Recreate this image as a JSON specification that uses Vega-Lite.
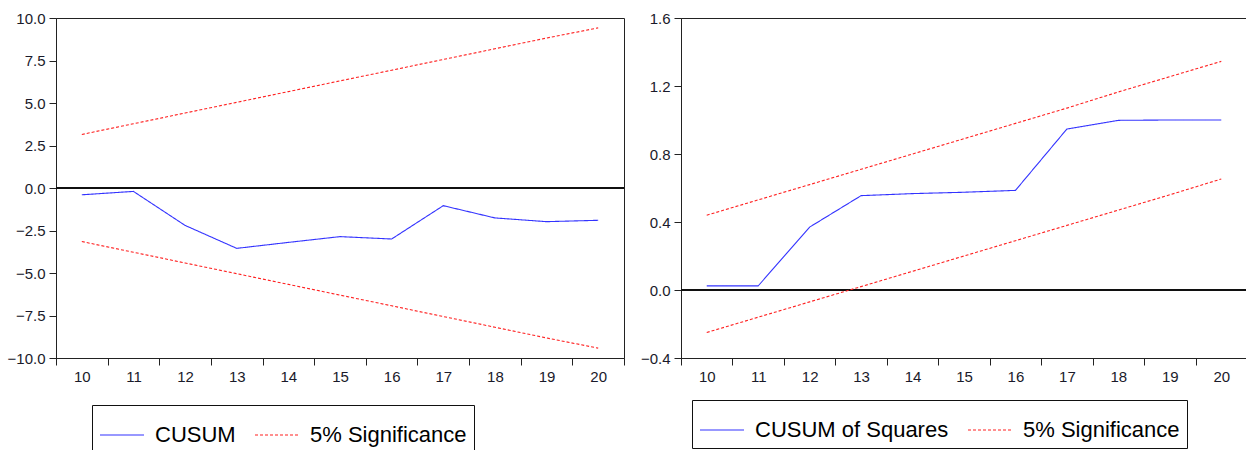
{
  "$schema": "https://vega.github.io/schema/vega-lite/v6.json",
  "padding": {"left": 6, "top": 10, "right": 0, "bottom": 0},
  "background": "white",
  "spacing": 14,
  "config": {
    "font": "Liberation Sans",
    "view": {"stroke": "#222", "strokeWidth": 1},
    "axis": {
      "domainColor": "#222", "tickColor": "#222", "labelColor": "#1a1a2a",
      "labelFontSize": 15, "labelFont": "Liberation Sans", "grid": false,
      "title": null, "tickSize": 7, "labelPadding": 4
    },
    "legend": {
      "orient": "none", "direction": "horizontal", "title": null,
      "strokeColor": "#111", "fillColor": "white", "padding": 7,
      "labelFontSize": 22, "labelFont": "Liberation Sans", "labelColor": "#000", "labelLimit": 400,
      "symbolType": "stroke", "symbolSize": 1936, "symbolStrokeWidth": 1.2,
      "labelOffset": 10, "columnPadding": 16
    }
  },
  "datasets": {
    "cusum": [
      {"t": 10, "series": "CUSUM", "part": "c", "value": -0.4},
      {"t": 11, "series": "CUSUM", "part": "c", "value": -0.2},
      {"t": 12, "series": "CUSUM", "part": "c", "value": -2.2},
      {"t": 13, "series": "CUSUM", "part": "c", "value": -3.55},
      {"t": 14, "series": "CUSUM", "part": "c", "value": -3.2},
      {"t": 15, "series": "CUSUM", "part": "c", "value": -2.86},
      {"t": 16, "series": "CUSUM", "part": "c", "value": -3.0},
      {"t": 17, "series": "CUSUM", "part": "c", "value": -1.04},
      {"t": 18, "series": "CUSUM", "part": "c", "value": -1.76},
      {"t": 19, "series": "CUSUM", "part": "c", "value": -1.98},
      {"t": 20, "series": "CUSUM", "part": "c", "value": -1.9},
      {"t": 10, "series": "5% Significance", "part": "u", "value": 3.15},
      {"t": 11, "series": "5% Significance", "part": "u", "value": 3.78},
      {"t": 12, "series": "5% Significance", "part": "u", "value": 4.41},
      {"t": 13, "series": "5% Significance", "part": "u", "value": 5.04},
      {"t": 14, "series": "5% Significance", "part": "u", "value": 5.67},
      {"t": 15, "series": "5% Significance", "part": "u", "value": 6.3},
      {"t": 16, "series": "5% Significance", "part": "u", "value": 6.93},
      {"t": 17, "series": "5% Significance", "part": "u", "value": 7.56},
      {"t": 18, "series": "5% Significance", "part": "u", "value": 8.19},
      {"t": 19, "series": "5% Significance", "part": "u", "value": 8.82},
      {"t": 20, "series": "5% Significance", "part": "u", "value": 9.42},
      {"t": 10, "series": "5% Significance", "part": "l", "value": -3.15},
      {"t": 11, "series": "5% Significance", "part": "l", "value": -3.78},
      {"t": 12, "series": "5% Significance", "part": "l", "value": -4.41},
      {"t": 13, "series": "5% Significance", "part": "l", "value": -5.04},
      {"t": 14, "series": "5% Significance", "part": "l", "value": -5.67},
      {"t": 15, "series": "5% Significance", "part": "l", "value": -6.3},
      {"t": 16, "series": "5% Significance", "part": "l", "value": -6.93},
      {"t": 17, "series": "5% Significance", "part": "l", "value": -7.56},
      {"t": 18, "series": "5% Significance", "part": "l", "value": -8.19},
      {"t": 19, "series": "5% Significance", "part": "l", "value": -8.82},
      {"t": 20, "series": "5% Significance", "part": "l", "value": -9.42}
    ],
    "cusumsq": [
      {"t": 10, "series": "CUSUM of Squares", "part": "c", "value": 0.024},
      {"t": 11, "series": "CUSUM of Squares", "part": "c", "value": 0.024},
      {"t": 12, "series": "CUSUM of Squares", "part": "c", "value": 0.37},
      {"t": 13, "series": "CUSUM of Squares", "part": "c", "value": 0.555},
      {"t": 14, "series": "CUSUM of Squares", "part": "c", "value": 0.567},
      {"t": 15, "series": "CUSUM of Squares", "part": "c", "value": 0.575},
      {"t": 16, "series": "CUSUM of Squares", "part": "c", "value": 0.586},
      {"t": 17, "series": "CUSUM of Squares", "part": "c", "value": 0.947},
      {"t": 18, "series": "CUSUM of Squares", "part": "c", "value": 0.998},
      {"t": 19, "series": "CUSUM of Squares", "part": "c", "value": 1.0},
      {"t": 20, "series": "CUSUM of Squares", "part": "c", "value": 1.0},
      {"t": 10, "series": "5% Significance", "part": "u", "value": 0.44},
      {"t": 11, "series": "5% Significance", "part": "u", "value": 0.53},
      {"t": 12, "series": "5% Significance", "part": "u", "value": 0.62},
      {"t": 13, "series": "5% Significance", "part": "u", "value": 0.71},
      {"t": 14, "series": "5% Significance", "part": "u", "value": 0.8},
      {"t": 15, "series": "5% Significance", "part": "u", "value": 0.89},
      {"t": 16, "series": "5% Significance", "part": "u", "value": 0.98},
      {"t": 17, "series": "5% Significance", "part": "u", "value": 1.07},
      {"t": 18, "series": "5% Significance", "part": "u", "value": 1.165},
      {"t": 19, "series": "5% Significance", "part": "u", "value": 1.255},
      {"t": 20, "series": "5% Significance", "part": "u", "value": 1.345},
      {"t": 10, "series": "5% Significance", "part": "l", "value": -0.25},
      {"t": 11, "series": "5% Significance", "part": "l", "value": -0.16},
      {"t": 12, "series": "5% Significance", "part": "l", "value": -0.07},
      {"t": 13, "series": "5% Significance", "part": "l", "value": 0.02},
      {"t": 14, "series": "5% Significance", "part": "l", "value": 0.11},
      {"t": 15, "series": "5% Significance", "part": "l", "value": 0.2},
      {"t": 16, "series": "5% Significance", "part": "l", "value": 0.29},
      {"t": 17, "series": "5% Significance", "part": "l", "value": 0.38},
      {"t": 18, "series": "5% Significance", "part": "l", "value": 0.47},
      {"t": 19, "series": "5% Significance", "part": "l", "value": 0.56},
      {"t": 20, "series": "5% Significance", "part": "l", "value": 0.653}
    ]
  },
  "resolve": {"scale": {"color": "independent", "strokeDash": "independent"}, "legend": {"color": "independent", "strokeDash": "independent"}},
  "hconcat": [
    {
      "width": 568,
      "height": 340,
      "data": {"name": "cusum"},
      "layer": [
        {
          "mark": {"type": "rule", "color": "#111", "strokeWidth": 1},
          "encoding": {"y": {"datum": 0, "type": "quantitative"}}
        },
        {
          "mark": {"type": "line", "strokeWidth": 1.1},
          "encoding": {
            "x": {
              "field": "t", "type": "quantitative",
              "scale": {"domain": [9.5, 20.5], "nice": false, "zero": false},
              "axis": {
                "values": [9.5, 10, 10.5, 11, 11.5, 12, 12.5, 13, 13.5, 14, 14.5, 15, 15.5, 16, 16.5, 17, 17.5, 18, 18.5, 19, 19.5, 20, 20.5],
                "labelExpr": "datum.value % 1 == 0 ? format(datum.value, 'd') : ''",
                "tickOpacity": {"condition": {"test": "datum.value % 1 == 0", "value": 0}, "value": 1},
                "labelFlush": false, "labelOverlap": false
              }
            },
            "y": {
              "field": "value", "type": "quantitative",
              "scale": {"domain": [-10, 10], "nice": false},
              "axis": {"values": [-10, -7.5, -5, -2.5, 0, 2.5, 5, 7.5, 10], "format": ".1f", "labelFlush": false}
            },
            "detail": {"field": "part"},
            "color": {
              "field": "series", "type": "nominal",
              "scale": {"domain": ["CUSUM", "5% Significance"], "range": ["#3333ff", "#ff2020"]},
              "legend": {"legendX": 36, "legendY": 387}
            },
            "strokeDash": {
              "field": "series", "type": "nominal",
              "scale": {"domain": ["CUSUM", "5% Significance"], "range": [[1, 0], [3, 2]]},
              "legend": {"legendX": 36, "legendY": 387}
            }
          }
        }
      ]
    },
    {
      "width": 566,
      "height": 340,
      "data": {"name": "cusumsq"},
      "layer": [
        {
          "mark": {"type": "rule", "color": "#111", "strokeWidth": 1},
          "encoding": {"y": {"datum": 0, "type": "quantitative"}}
        },
        {
          "mark": {"type": "line", "strokeWidth": 1.1},
          "encoding": {
            "x": {
              "field": "t", "type": "quantitative",
              "scale": {"domain": [9.5, 20.5], "nice": false, "zero": false},
              "axis": {
                "values": [9.5, 10, 10.5, 11, 11.5, 12, 12.5, 13, 13.5, 14, 14.5, 15, 15.5, 16, 16.5, 17, 17.5, 18, 18.5, 19, 19.5, 20, 20.5],
                "labelExpr": "datum.value % 1 == 0 ? format(datum.value, 'd') : ''",
                "tickOpacity": {"condition": {"test": "datum.value % 1 == 0", "value": 0}, "value": 1},
                "labelFlush": false, "labelOverlap": false
              }
            },
            "y": {
              "field": "value", "type": "quantitative",
              "scale": {"domain": [-0.4, 1.6], "nice": false},
              "axis": {"values": [-0.4, 0, 0.4, 0.8, 1.2, 1.6], "format": ".1f", "labelFlush": false}
            },
            "detail": {"field": "part"},
            "color": {
              "field": "series", "type": "nominal",
              "scale": {"domain": ["CUSUM of Squares", "5% Significance"], "range": ["#3333ff", "#ff2020"]},
              "legend": {"legendX": 11, "legendY": 382}
            },
            "strokeDash": {
              "field": "series", "type": "nominal",
              "scale": {"domain": ["CUSUM of Squares", "5% Significance"], "range": [[1, 0], [3, 2]]},
              "legend": {"legendX": 11, "legendY": 382}
            }
          }
        }
      ]
    }
  ]
}
